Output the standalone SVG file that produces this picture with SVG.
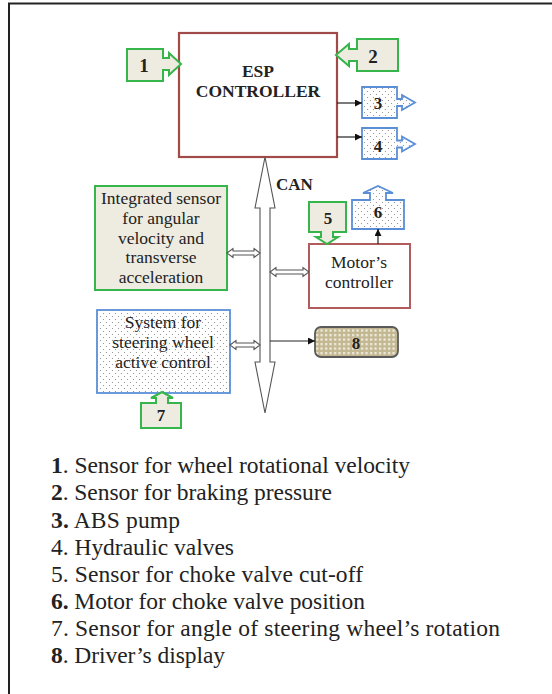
<svg xmlns="http://www.w3.org/2000/svg" width="552" height="694" viewBox="0 0 552 694">
<style>
text{font-family:"Liberation Serif","Times New Roman",serif;fill:#222}
.b{font-weight:bold}
.lbl{font-size:17.5px;text-anchor:middle}
.num{font-size:17px;font-weight:bold;text-anchor:middle}
.leg{font-size:23.5px}
.green{fill:#eeece1;stroke:#35b54a;stroke-width:2}
.blue{fill:url(#dots);stroke:#5a8fd8;stroke-width:1.8}
.red{fill:#fff;stroke:#a04a4a;stroke-width:2.2}
.hollow{fill:#fff;stroke:#555;stroke-width:1.1}
.line{stroke:#222;stroke-width:1.2;fill:none;marker-end:url(#ah)}
</style>
<defs>
<pattern id="dots" width="6" height="6" patternUnits="userSpaceOnUse">
<rect width="6" height="6" fill="#fff"/>
<circle cx="1.5" cy="1.5" r="0.6" fill="#888"/>
<circle cx="4.5" cy="4.5" r="0.6" fill="#888"/>
</pattern>
<pattern id="grid" width="4.5" height="4.5" patternUnits="userSpaceOnUse">
<rect width="4.5" height="4.5" fill="#c2b790"/>
<rect x="1" y="1" width="2.2" height="2.2" fill="#f4f1e6"/>
</pattern>
<marker id="ah" viewBox="0 0 10 10" refX="10" refY="5" markerWidth="7" markerHeight="7" markerUnits="userSpaceOnUse" orient="auto">
<path d="M0,0 L10,5 L0,10 Z" fill="#111"/>
</marker>
</defs>
<rect x="9" y="3.5" width="600" height="760" fill="#fff" stroke="#222" stroke-width="2"/>

<g id="esp">
<rect class="red" x="179" y="33" width="158" height="124"/>
<text class="lbl b" x="258" y="77">ESP</text>
<text class="lbl b" x="258" y="97">CONTROLLER</text>
</g>
<g id="n1">
<path class="green" d="M127,49 H163 V58 H169 V53 L181,64 L169,75 V70 H163 V81 H127 Z"/>
<text class="num" x="144" y="72" style="font-size:19px">1</text>
</g>
<g id="n2">
<path class="green" d="M357,39 H398 V71 H357 V61 H349 V66 L336,55 L349,44 V49 H357 Z"/>
<text class="num" x="373" y="63" style="font-size:19px">2</text>
</g>
<g id="n3">
<path class="blue" d="M362,87 H397 V99 H402 V95 L415,102.5 L402,110 V106 H397 V118 H362 Z"/>
<text class="num" x="378" y="109">3</text>
</g>
<g id="n4">
<path class="blue" d="M362,128 H397 V140.5 H402 V136.5 L415,144 L402,151.5 V147.5 H397 V159 H362 Z"/>
<text class="num" x="378" y="152">4</text>
</g>
<g id="integrated">
<rect class="green" x="95" y="186" width="132" height="104"/>
<text class="lbl" x="161" y="204">Integrated sensor</text>
<text class="lbl" x="161" y="224">for angular</text>
<text class="lbl" x="161" y="243.5">velocity and</text>
<text class="lbl" x="161" y="263">transverse</text>
<text class="lbl" x="161" y="283">acceleration</text>
</g>
<g id="motor">
<rect class="red" x="309" y="244" width="101" height="64" style="stroke:#b05c5c;stroke-width:2"/>
<text class="lbl" x="359" y="268">Motor’s</text>
<text class="lbl" x="359" y="288">controller</text>
</g>
<g id="n5">
<path class="green" d="M309,202 H346 V232 H333 V237 H338 L327,244 L316,237 H321 V232 H309 Z"/>
<text class="num" x="328" y="224">5</text>
</g>
<g id="n6">
<path class="blue" d="M352,200 H370 V193 H363 L378,186 L393,193 H386 V200 H404 V229 H352 Z"/>
<text class="num" x="378" y="218">6</text>
</g>
<g id="steering">
<rect class="blue" x="97" y="310" width="133" height="83"/>
<text class="lbl" x="163" y="328">System for</text>
<text class="lbl" x="163" y="348">steering wheel</text>
<text class="lbl" x="163" y="368">active control</text>
</g>
<g id="n7">
<path class="green" d="M141,403 H156 V398 H151 L162,392 L173,398 H168 V403 H181 V428 H141 Z"/>
<text class="num" x="161" y="421">7</text>
</g>
<g id="n8">
<rect x="315" y="327" width="83" height="30" rx="6" fill="url(#grid)" stroke="#5a5a5a" stroke-width="1.8"/>
<text class="num" x="356" y="349">8</text>
</g>

<g id="connectors">
<path class="hollow" d="M265,157 L275,208 H270 V362 H275 L265,413 L255,362 H260 V208 H255 Z"/>
<text class="b" x="276" y="190" style="font-size:17px">CAN</text>
<path class="hollow" d="M227,253 L233,248.5 V251 H254 V248.5 L260,253 L254,257.5 V255 H233 V257.5 Z"/>
<path class="hollow" d="M270,272 L276,267.5 V270 H303 V267.5 L309,272 L303,276.5 V274 H276 V276.5 Z"/>
<path class="hollow" d="M230,345 L236,340.5 V343 H254 V340.5 L260,345 L254,349.5 V347 H236 V349.5 Z"/>
<line class="line" x1="337" y1="103" x2="362" y2="103"/>
<line class="line" x1="337" y1="137" x2="362" y2="137"/>
<line class="line" x1="378" y1="244" x2="378" y2="229"/>
<line class="line" x1="270" y1="341" x2="315" y2="341"/>
</g>

<g id="legend" class="leg">
<text class="leg" x="51" y="473" textLength="359"><tspan class="b">1</tspan>. Sensor for wheel rotational velocity</text>
<text class="leg" x="51" y="500" textLength="281"><tspan class="b">2</tspan>. Sensor for braking pressure</text>
<text class="leg" x="51" y="527.5" textLength="129"><tspan class="b">3.</tspan> ABS pump</text>
<text class="leg" x="51" y="555" textLength="183">4. Hydraulic valves</text>
<text class="leg" x="51" y="582" textLength="312">5. Sensor for choke valve cut-off</text>
<text class="leg" x="51" y="609" textLength="314"><tspan class="b">6.</tspan> Motor for choke valve position</text>
<text class="leg" x="51" y="636" textLength="449">7. Sensor for angle of steering wheel’s rotation</text>
<text class="leg" x="51" y="663" textLength="174"><tspan class="b">8</tspan>. Driver’s display</text>
</g>
</svg>
